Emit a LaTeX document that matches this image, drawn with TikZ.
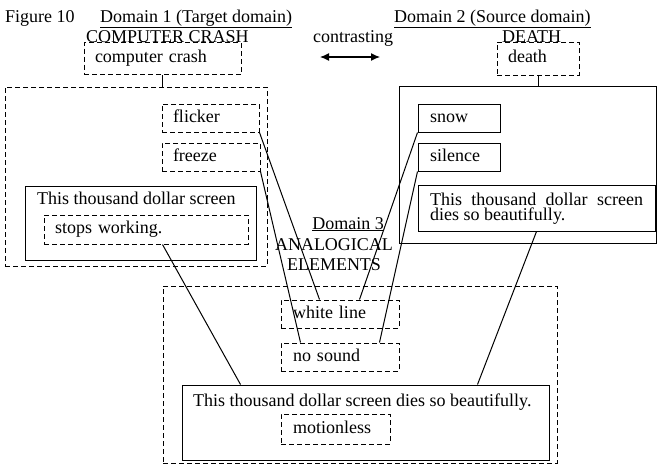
\documentclass[tikz,border=0pt]{standalone}
\usepackage{fontspec}
\setmainfont{Liberation Serif}
\usetikzlibrary{arrows.meta}

\begin{document}
\begin{tikzpicture}[x=1pt,y=-1pt,
    every node/.style={font=\fontsize{18}{14}\selectfont,inner sep=0pt},
    dbox/.style={draw,line width=1pt,dash pattern=on 5pt off 3pt},
    sbox/.style={draw,line width=1pt},
    item/.style={align=left,inner xsep=11pt,text height=12pt,text depth=4pt},
    link/.style={line width=1pt}]

    \useasboundingbox (0,0) rectangle (658,466);

    % headings
    \node[anchor=base west] (fig) at (5,22) {Figure 10};
    \node[anchor=base west] (d1t) at (100,22) {\underline{Domain 1 (Target domain)}};
    \node[anchor=base west] (d1n) at (86,42) {COMPUTER CRASH};
    \node[anchor=base west] (ctr) at (313,42) {contrasting};
    \node[anchor=base west] (d2t) at (394,22) {\underline{Domain 2 (Source domain)}};
    \node[anchor=base west] (d2n) at (502,42) {DEATH};
    \coordinate (al) at (320,57);
    \coordinate (ar) at (380,57);
    \draw[line width=1.2pt,{Latex[length=9pt,width=8pt]}-{Latex[length=9pt,width=8pt]}] (al) -- (ar);

    % domain 1
    \node[dbox,item,text width=135pt,minimum height=32pt] (cc) at (162.5,58.5) {computer crash};
    \node[dbox,minimum width=262pt,minimum height=179pt] (dom1) at (136,176.5) {};
    \node[dbox,item,text width=75pt,minimum height=28pt] (flk) at (210.5,118) {flicker};
    \node[dbox,item,text width=76pt,minimum height=28pt] (frz) at (211,157) {freeze};
    \node[sbox,minimum width=231pt,minimum height=74pt] (scr1) at (140.5,223) {};
    \node[anchor=base west] (scr1t) at (37,204) {This thousand dollar screen};
    \node[dbox,item,text width=182pt,minimum height=29pt] (stp) at (146,229.5) {stops working.};

    % domain 2
    \node[dbox,item,text width=60pt,minimum height=33pt] (dth) at (538,58.5) {death};
    \node[sbox,minimum width=257pt,minimum height=157pt] (dom2) at (527.5,164.5) {};
    \node[sbox,item,inner xsep=12pt,text width=58pt,minimum height=28pt] (snw) at (459,118) {snow};
    \node[sbox,item,inner xsep=12pt,text width=58pt,minimum height=28pt] (sil) at (459,157) {silence};
    \node[sbox,align=justify,inner xsep=12pt,text width=213pt,text height=12pt,text depth=18pt,
        minimum height=46pt,font=\fontsize{18}{15}\selectfont] (scr2) at (536.5,208)
        {This thousand dollar screen dies so beautifully.};

    % domain 3
    \node[anchor=base] (d3t) at (348,229) {\underline{Domain 3}};
    \node[anchor=base,align=center,font=\fontsize{18}{20}\selectfont] (anlg) at (334,270) {ANALOGICAL\\ELEMENTS};
    \node[dbox,minimum width=394pt,minimum height=177pt] (dom3) at (360,374.5) {};
    \node[dbox,item,inner xsep=12pt,text width=94pt,minimum height=28pt] (wl) at (340,314) {white line};
    \node[dbox,item,inner xsep=12pt,text width=94pt,minimum height=28pt] (ns) at (340,357) {no sound};
    \node[sbox,minimum width=367pt,minimum height=75pt] (scr3) at (365.5,422.5) {};
    \node[anchor=base west] (scr3t) at (193,406) {This thousand dollar screen dies so beautifully.};
    \node[dbox,item,inner xsep=12pt,text width=85pt,minimum height=30pt] (mot) at (335.5,429) {motionless};

    % links
    \draw[link] (cc.south) -- (cc.south |- dom1.north);
    \draw[link] (dth.south) -- (dth.south |- dom2.north);
    \draw[link] (flk.south east) -- ([xshift=39pt]wl.north west);
    \draw[link] (snw.south west) -- ([xshift=79pt]wl.north west);
    \draw[link] (frz.south east) -- ([xshift=20pt]ns.north west);
    \draw[link] (sil.south west) -- ([xshift=99pt]ns.north west);
    \draw[link] ([xshift=119pt]stp.south west) -- ([xshift=59pt]scr3.north west);
    \draw[link] (scr2.south) -- ([xshift=296pt]scr3.north west);

\end{tikzpicture}
\end{document}
